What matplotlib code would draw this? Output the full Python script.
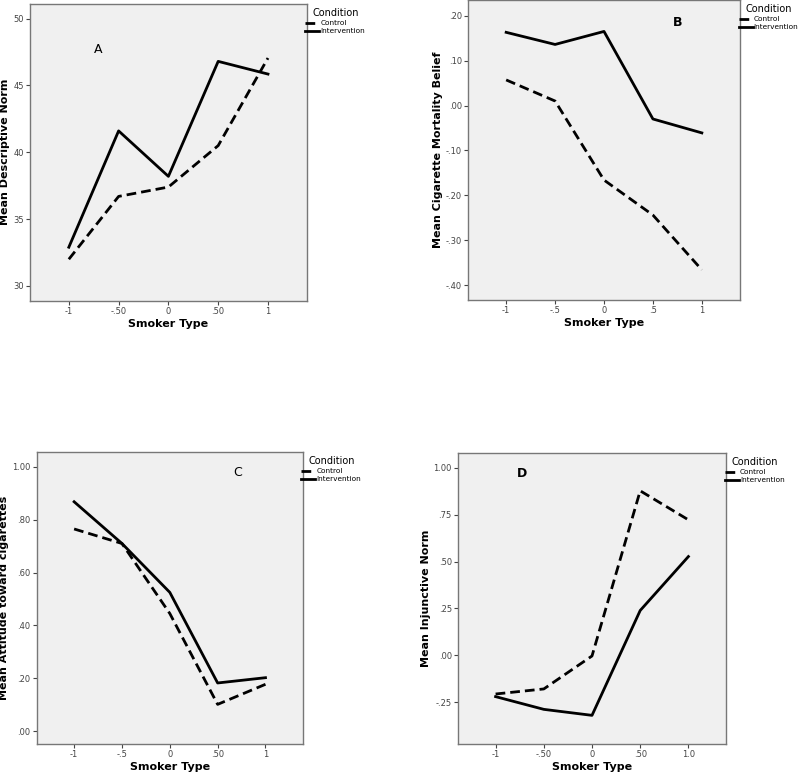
import matplotlib
matplotlib.use('Agg')
import matplotlib.pyplot as plt

smoker_type = [-1, -0.5, 0, 0.5, 1]

# panel A: descriptive norm
desc_control = [32.0, 36.7, 37.4, 40.5, 47.05]
desc_intervention = [32.9, 41.6, 38.2, 46.8, 45.85]

# panel B: cigarette mortality belief
mort_control = [0.057, 0.010, -0.166, -0.244, -0.366]
mort_intervention = [0.163, 0.136, 0.165, -0.030, -0.061]

# panel C: attitude toward cigarettes
att_control = [0.765, 0.710, 0.445, 0.101, 0.177]
att_intervention = [0.868, 0.710, 0.525, 0.182, 0.202]

# panel D: injunctive norm
inj_control = [-0.207, -0.180, -0.004, 0.878, 0.723]
inj_intervention = [-0.221, -0.289, -0.321, 0.239, 0.527]

panels = [
    dict(pos=[0.0375, 0.612, 0.346, 0.383], ctrl=desc_control, intv=desc_intervention,
         ylabel='Mean Descriptive Norm', ylim=(28.9, 51.1),
         yticks=[30, 35, 40, 45, 50], yticklabels=['30', '35', '40', '45', '50'],
         xticklabels=['-1', '-.50', '0', '.50', '1'],
         letter='A', lpos=(-0.71, 47.7), lweight='normal'),
    dict(pos=[0.585, 0.613, 0.34, 0.387], ctrl=mort_control, intv=mort_intervention,
         ylabel='Mean Cigarette Mortality Belief', ylim=(-0.433, 0.235),
         yticks=[-0.4, -0.3, -0.2, -0.1, 0.0, 0.1, 0.2],
         yticklabels=['-.40', '-.30', '-.20', '-.10', '.00', '.10', '.20'],
         xticklabels=['-1', '-.5', '0', '.5', '1'],
         letter='B', lpos=(0.756, 0.186), lweight='bold'),
    dict(pos=[0.046, 0.04, 0.3325, 0.377], ctrl=att_control, intv=att_intervention,
         ylabel='Mean Attitude toward cigarettes', ylim=(-0.049, 1.057),
         yticks=[0.0, 0.2, 0.4, 0.6, 0.8, 1.0],
         yticklabels=['.00', '.20', '.40', '.60', '.80', '1.00'],
         xticklabels=['-1', '-.5', '0', '.50', '1'],
         letter='C', lpos=(0.71, 0.977), lweight='normal'),
    dict(pos=[0.5725, 0.04, 0.335, 0.3755], ctrl=inj_control, intv=inj_intervention,
         ylabel='Mean Injunctive Norm', ylim=(-0.474, 1.08),
         yticks=[-0.25, 0.0, 0.25, 0.5, 0.75, 1.0],
         yticklabels=['-.25', '.00', '.25', '.50', '.75', '1.00'],
         xticklabels=['-1', '-.50', '0', '.50', '1.0'],
         letter='D', lpos=(-0.73, 0.968), lweight='bold'),
]

plt.rcParams['font.family'] = ['DejaVu Sans']
fig = plt.figure(figsize=(8, 7.75), dpi=100)

for p in panels:
    ax = fig.add_axes(p['pos'])
    ax.set_facecolor('#f0f0f0')
    ax.plot(smoker_type, p['ctrl'], color='black', lw=2.0, linestyle=(0, (3.5, 1.8)),
            label='Control')
    ax.plot(smoker_type, p['intv'], color='black', lw=2.0, label='Intervention')
    ax.set_xlim(-1.39, 1.39)
    ax.set_ylim(*p['ylim'])
    ax.set_xticks(smoker_type)
    ax.set_xticklabels(p['xticklabels'])
    ax.set_yticks(p['yticks'])
    ax.set_yticklabels(p['yticklabels'])
    ax.tick_params(labelsize=6, colors='#444444', length=3, width=0.8, pad=1.5)
    for s in ax.spines.values():
        s.set_color('#777777')
        s.set_linewidth(1.0)
    ax.set_ylabel(p['ylabel'], fontsize=8, fontweight='bold', labelpad=2)
    ax.set_xlabel('Smoker Type', fontsize=8, fontweight='bold', labelpad=2)
    ax.text(p['lpos'][0], p['lpos'][1], p['letter'], fontsize=9,
            fontweight=p['lweight'], ha='center', va='center')
    leg = ax.legend(loc='upper left', bbox_to_anchor=(0.995, 0.985), frameon=False,
                    title='Condition', fontsize=5.3, title_fontsize=7,
                    handlelength=1.9, handletextpad=0.15, labelspacing=0.25,
                    borderpad=0, borderaxespad=0)
    leg._legend_box.align = 'center'

fig.savefig('out.png', dpi=100)
